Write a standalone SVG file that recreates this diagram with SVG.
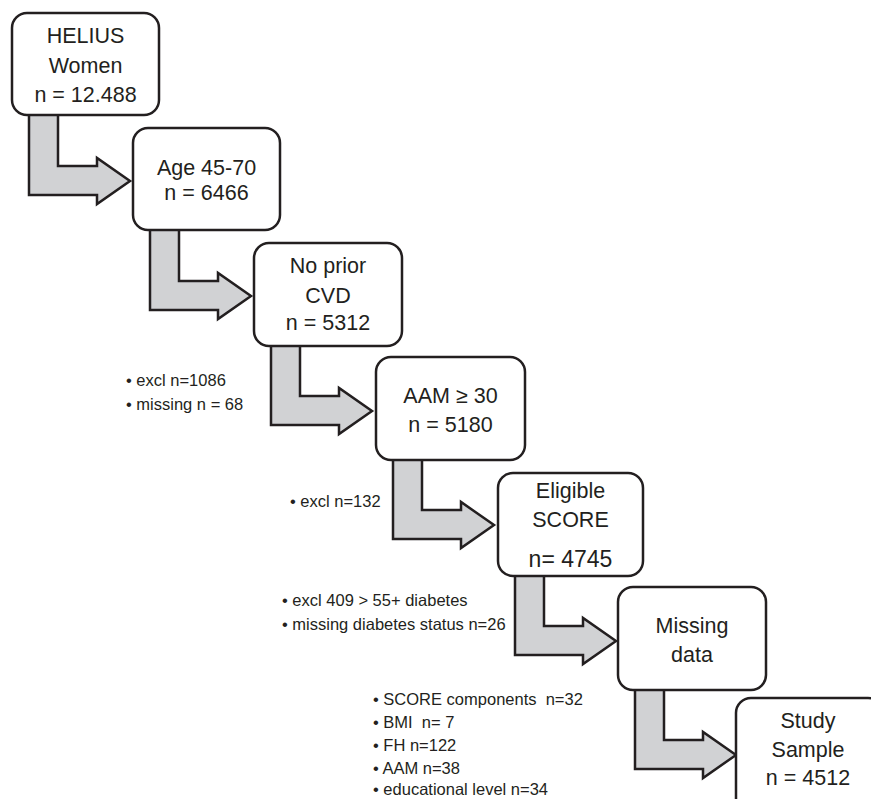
<svg xmlns="http://www.w3.org/2000/svg" width="871" height="799" viewBox="0 0 871 799">
<defs>
<style>
.box{fill:#ffffff;stroke:#231f20;stroke-width:2.5}
.arr{fill:#d1d2d4;stroke:#231f20;stroke-width:2.5;stroke-linejoin:miter}
.t{font-family:"Liberation Sans",Arial,sans-serif;font-size:21.5px;fill:#231f20;text-anchor:middle}
.s{font-family:"Liberation Sans",Arial,sans-serif;font-size:16.5px;fill:#231f20;white-space:pre}
</style>
<path id="ar" d="M17,102 V182 H85 V191 L118,168 L85,145 V153 H46 V102"/>
</defs>
<rect width="871" height="799" fill="#ffffff"/>
<g id="connectors">
<use href="#ar" class="arr" x="12" y="13"/>
<use href="#ar" class="arr" x="133" y="128"/>
<use href="#ar" class="arr" x="254" y="243"/>
<use href="#ar" class="arr" x="376" y="357"/>
<use href="#ar" class="arr" x="498" y="473"/>
<use href="#ar" class="arr" x="618" y="587"/>
</g>
<g id="n1">
<rect class="box" x="12" y="13" width="147" height="102" rx="15"/>
<text class="t" x="85.5" y="43">HELIUS</text>
<text class="t" x="85.5" y="73">Women</text>
<text class="t" x="85.5" y="102">n = 12.488</text>
</g>
<g id="n2">
<rect class="box" x="133" y="128" width="147" height="102" rx="15"/>
<text class="t" x="206.5" y="175">Age 45-70</text>
<text class="t" x="206.5" y="200">n = 6466</text>
</g>
<g id="n3">
<rect class="box" x="254" y="243" width="148" height="103" rx="15"/>
<text class="t" x="328" y="273">No prior</text>
<text class="t" x="328" y="303">CVD</text>
<text class="t" x="328" y="330">n = 5312</text>
</g>
<g id="n4">
<rect class="box" x="376" y="357" width="149" height="103" rx="15"/>
<text class="t" x="450.5" y="403">AAM ≥ 30</text>
<text class="t" x="450.5" y="432">n = 5180</text>
</g>
<g id="n5">
<rect class="box" x="498" y="473" width="145" height="103" rx="15"/>
<text class="t" x="570.5" y="498">Eligible</text>
<text class="t" x="570.5" y="527">SCORE</text>
<text class="t" x="570.5" y="567" style="font-size:23px">n= 4745</text>
</g>
<g id="n6">
<rect class="box" x="618" y="587" width="148" height="103" rx="15"/>
<text class="t" x="692" y="633">Missing</text>
<text class="t" x="692" y="662">data</text>
</g>
<g id="n7">
<rect class="box" x="736" y="698" width="147" height="120" rx="15"/>
<text class="t" x="808" y="728">Study</text>
<text class="t" x="808" y="757">Sample</text>
<text class="t" x="808" y="785">n = 4512</text>
</g>
<g id="notes">
<text class="s" x="126" y="386">• excl n=1086</text>
<text class="s" x="126" y="410">• missing n = 68</text>
<text class="s" x="290" y="507">• excl n=132</text>
<text class="s" x="282" y="606">• excl 409 &gt; 55+ diabetes</text>
<text class="s" x="282" y="630">• missing diabetes status n=26</text>
<text class="s" x="373" y="705">• SCORE components  n=32</text>
<text class="s" x="373" y="728">• BMI  n= 7</text>
<text class="s" x="373" y="751">• FH n=122</text>
<text class="s" x="373" y="774">• AAM n=38</text>
<text class="s" x="373" y="795">• educational level n=34</text>
</g>
</svg>
